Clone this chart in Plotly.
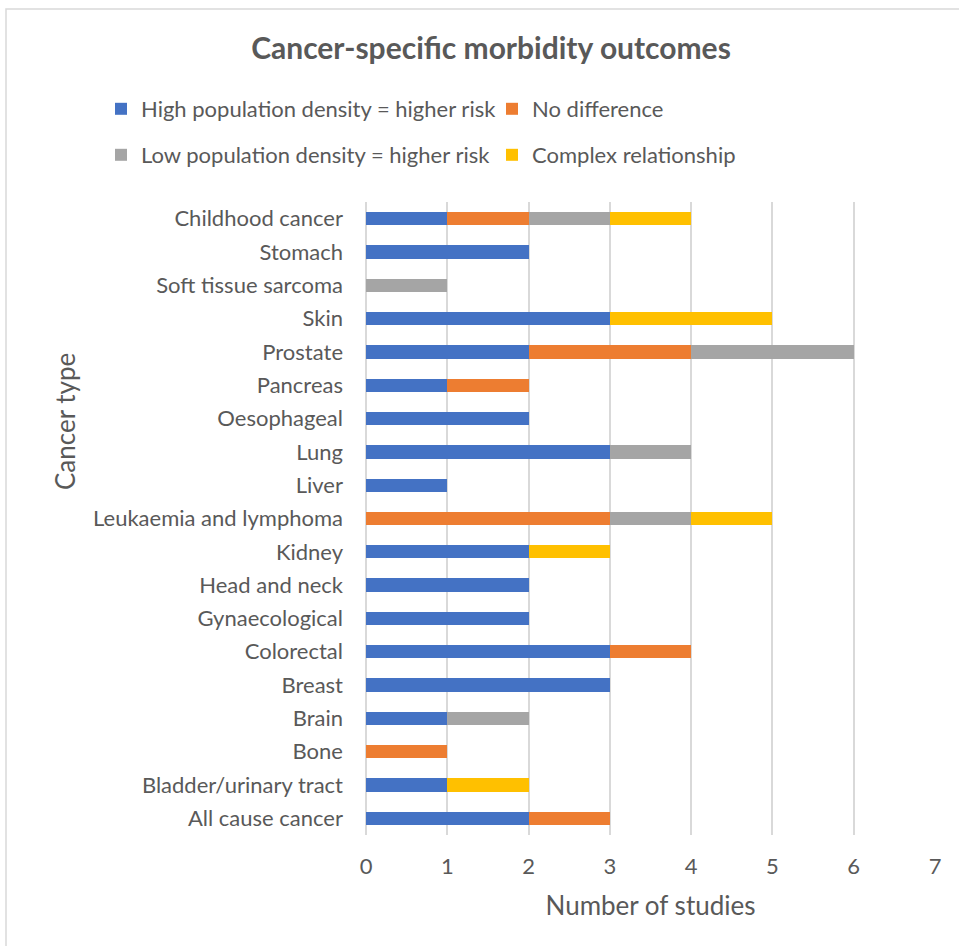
import plotly.graph_objects as go

categories = ["All cause cancer", "Bladder/urinary tract", "Bone", "Brain", "Breast",
              "Colorectal", "Gynaecological", "Head and neck", "Kidney",
              "Leukaemia and lymphoma", "Liver", "Lung", "Oesophageal", "Pancreas",
              "Prostate", "Skin", "Soft tissue sarcoma", "Stomach", "Childhood cancer"]

high_density = [2, 1, 0, 1, 3, 3, 2, 2, 2, 0, 1, 3, 2, 1, 2, 3, 0, 2, 1]
no_difference = [1, 0, 1, 0, 0, 1, 0, 0, 0, 3, 0, 0, 0, 1, 2, 0, 0, 0, 1]
low_density = [0, 0, 0, 1, 0, 0, 0, 0, 0, 1, 0, 1, 0, 0, 2, 0, 1, 0, 1]
complex_rel = [0, 1, 0, 0, 0, 0, 0, 0, 1, 1, 0, 0, 0, 0, 0, 2, 0, 0, 1]

series = [
    ("High population density = higher risk", high_density, "#4472C4", "legend"),
    ("No difference", no_difference, "#ED7D31", "legend"),
    ("Low population density = higher risk", low_density, "#A5A5A5", "legend2"),
    ("Complex relationship", complex_rel, "#FFC000", "legend2"),
]

FONT = "Lato"
TXT = "#595959"

W, H = 959, 946
L, R, T, B = 366, 24, 202, 111
PW, PH = W - L - R, H - T - B


def px_x(p):
    return (p - L) / PW


def px_y(p):
    return (H - B - p) / PH


fig = go.Figure()
for name, vals, color, leg in series:
    fig.add_trace(go.Bar(
        y=categories, x=vals, name=name, orientation="h",
        marker=dict(color=color, line=dict(width=0)),
        width=0.4, legend=leg,
    ))

leg_common = dict(
    orientation="h", xref="paper", yref="paper",
    xanchor="left", yanchor="middle", entrywidth=346,
    font=dict(family=FONT, size=22, color=TXT),
    bgcolor="rgba(0,0,0,0)", itemclick=False, itemdoubleclick=False,
    traceorder="normal",
)

fig.update_layout(
    width=W, height=H,
    margin=dict(l=L, r=R, t=T, b=B, autoexpand=False),
    paper_bgcolor="white", plot_bgcolor="white",
    barmode="stack",
    font=dict(family=FONT, color=TXT),
    title=dict(text="<b>Cancer-specific morbidity outcomes</b>",
               x=491 / W, xanchor="center", xref="container",
               y=1 - 48 / H, yanchor="middle", yref="container",
               font=dict(family=FONT, size=30, color=TXT)),
    legend=dict(x=px_x(101), y=px_y(109), **leg_common),
    legend2=dict(x=px_x(101), y=px_y(155), **leg_common),
    xaxis=dict(range=[0, 7], dtick=1, showgrid=True, gridcolor="#D9D9D9", gridwidth=1.5,
               zeroline=True, zerolinecolor="#D9D9D9", zerolinewidth=1.5,
               showline=False, ticks="", automargin=False,
               tickfont=dict(family=FONT, size=22, color=TXT),
               ticklabelstandoff=16,
               title=dict(text="Number of studies", standoff=18,
                          font=dict(family=FONT, size=26, color=TXT))),
    yaxis=dict(categoryorder="array", categoryarray=categories,
               showgrid=False, zeroline=False, showline=False, ticks="", automargin=False,
               tickfont=dict(family=FONT, size=22, color=TXT),
               ticklabelstandoff=22),
    showlegend=True,
)

fig.add_annotation(text="Cancer type", textangle=-90, xref="paper", yref="paper",
                   x=px_x(65), y=px_y(422), showarrow=False,
                   xanchor="center", yanchor="middle",
                   font=dict(family=FONT, size=26, color=TXT))

fig.add_shape(type="rect", xref="paper", yref="paper",
              x0=px_x(6), x1=px_x(976), y0=px_y(960), y1=px_y(9),
              line=dict(color="#D9D9D9", width=1.5), fillcolor="rgba(0,0,0,0)", layer="below")

fig.write_html("out.html", config={"displayModeBar": False},
               post_script="document.body.style.margin='0';document.body.style.overflow='hidden';")
